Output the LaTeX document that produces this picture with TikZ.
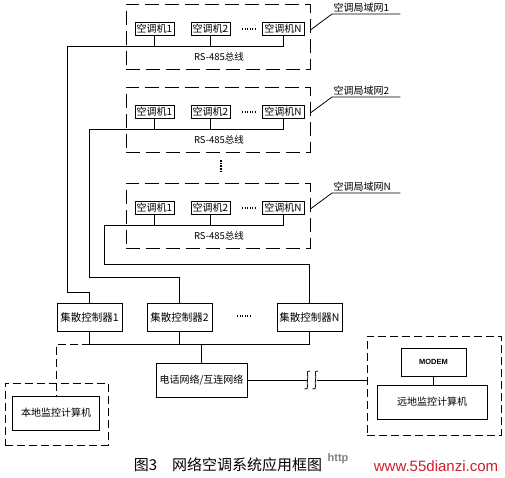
\documentclass[tikz,border=0pt]{standalone}
\usepackage{fontspec}
\newfontfamily\cjk{Noto Sans CJK SC}
\newfontfamily\webfont{Liberation Sans}
\definecolor{webred}{RGB}{204,32,44}

\tikzset{
  wire/.style={line width=0.8pt},
  acbox/.style={draw,line width=0.8pt,minimum height=13pt,inner sep=0pt,font=\cjk\fontsize{10}{10}\selectfont},
  lanbox/.style={draw,line width=0.8pt,dash pattern=on 14pt off 6pt,minimum width=184pt,minimum height=65pt},
  lanlbl/.style={anchor=south west,inner sep=1.5pt,text width=65pt,align=left,font=\cjk\fontsize{10}{11}\selectfont},
  bustxt/.style={font=\cjk\fontsize{9.5}{10}\selectfont},
  ctrlbox/.style={draw,line width=0.8pt,minimum width=65pt,minimum height=28pt,inner sep=0pt,font=\cjk\fontsize{10.5}{11}\selectfont},
  pcbox/.style={draw,line width=0.8pt,inner sep=0pt,font=\cjk\fontsize{10}{11}\selectfont},
  sitebox/.style={draw,line width=0.8pt,dash pattern=on 8pt off 4pt},
  dots/.style={line width=1.2pt,dash pattern=on 1pt off 1.6pt}
}

\begin{document}
\begin{tikzpicture}[x=1pt,y=-1pt]
\useasboundingbox (0,0) rectangle (505,477);

% controllers
\node[ctrlbox] (c1) at (89.5,317) {集散控制器1};
\node[ctrlbox] (c2) at (179.5,317) {集散控制器2};
\node[ctrlbox] (cN) at (309.5,317) {集散控制器N};
\draw[dots] (237,316) -- (251,316);

% three air-conditioner LANs
\foreach \g/\t/\bx/\jy in {1/4/67/292, 2/87/89/277, N/183/104/264}{
  \node[lanbox] (lan\g) at (218,\t+32.5) {};
  \node[acbox,minimum width=39pt] (a\g-1) at (154.5,\t+25) {空调机1};
  \node[acbox,minimum width=39pt] (a\g-2) at (210.5,\t+25) {空调机2};
  \node[acbox,minimum width=42pt] (a\g-N) at (283,\t+25) {空调机N};
  \draw[dots] (242,\t+25) -- (257,\t+25);
  \node[bustxt] (rs\g) at (219,\t+53) {RS-485总线};
  \node[lanlbl] (l\g) at (332,\t+10) {空调局域网\g};
  \draw[wire] ([yshift=6.5pt]lan\g.east) -- (l\g.south west) -- (l\g.south east);
  \coordinate (b\g) at (\bx,\t+42);
  \coordinate (j\g) at (\bx,\jy);
  \draw[wire] (b\g) -| (a\g-N.south);
  \draw[wire] (a\g-1.south) -- (a\g-1.south |- b\g);
  \draw[wire] (a\g-2.south) -- (a\g-2.south |- b\g);
  \draw[wire] (b\g) -- (j\g) -| (c\g.north);
}
\draw[line width=1.4pt,dash pattern=on 1.5pt off 1.2pt] (221,160) -- (221,173);

% lower network
\node[pcbox,minimum width=91pt,minimum height=34pt] (tel) at (201.5,380) {电话网络/互连网络};
\coordinate (nb) at (89.5,344);
\draw[wire] (c1.south) -- (nb) -| (cN.south);
\draw[wire] (c2.south) -- (c2.south |- nb);
\draw[wire] (tel.north) -- (tel.north |- nb);

% local monitor
\node[sitebox,minimum width=103pt,minimum height=62pt] (local) at (56.5,414) {};
\node[pcbox,minimum width=87pt,minimum height=34pt] (lpc) at (56,413) {本地监控计算机};
\draw[sitebox] (nb) -| (lpc.north);

% remote monitor
\node[sitebox,minimum width=134pt,minimum height=99pt] (remote) at (434,385.5) {};
\node[pcbox,minimum width=65pt,minimum height=28pt,font=\webfont\bfseries\fontsize{7.5}{8}\selectfont] (modem) at (433.5,362) {MODEM};
\node[pcbox,minimum width=110pt,minimum height=34pt] (rpc) at (432,402) {远地监控计算机};
\draw[wire] (modem.south) -- (modem.south |- rpc.north);
\coordinate (s1) at (307,380);
\coordinate (s2) at (317,380);
\draw[wire] (tel.east) -- (s1);
\draw[wire] (s2) -- (s2 -| remote.west);
\draw[wire] (310,371) .. controls (305,370) and (309,376) .. (307.5,380) .. controls (306,384) and (310,390) .. (304.5,389);
\draw[wire] (318,371) .. controls (313,370) and (317,376) .. (315.5,380) .. controls (314,384) and (318,390) .. (312.5,389);

% caption
\node[font=\cjk\fontsize{15}{16}\selectfont] (cap) at (228,465) {图3\hspace{1em}网络空调系统应用框图};
\node[font=\webfont\bfseries\fontsize{11}{12}\selectfont,text=gray] (http) at (338,459) {http};
\node[font=\webfont\fontsize{15}{16}\selectfont,text=webred] (web) at (436,466) {www.55dianzi.com};
\end{tikzpicture}
\end{document}
